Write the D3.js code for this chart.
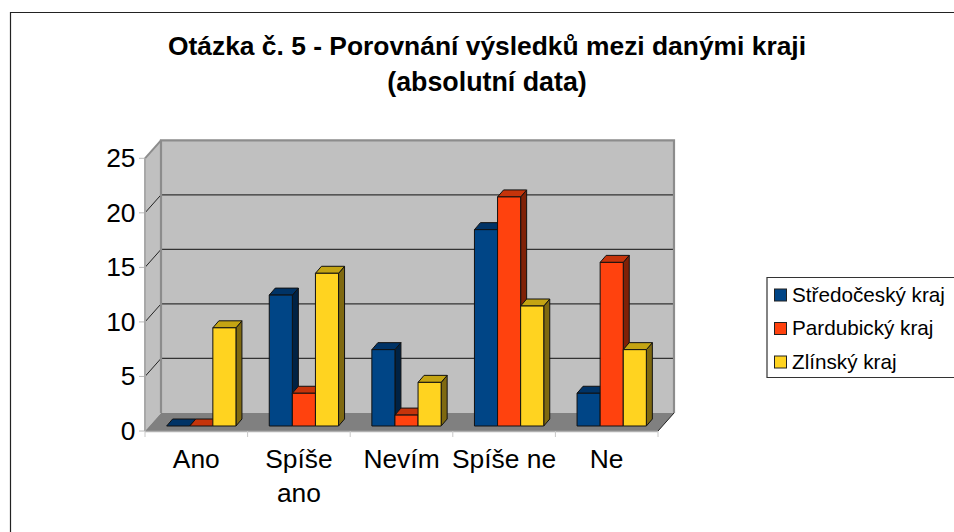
<!DOCTYPE html>
<html><head><meta charset="utf-8">
<script src="https://cdn.jsdelivr.net/npm/d3@7"></script>
<style>html,body{margin:0;padding:0;background:#fff}svg{display:block}text{font-family:"Liberation Sans",Arial,sans-serif;fill:#000}</style>
</head><body><svg id="c" width="954" height="532"></svg>
<script>
const titleLines=["Otázka č. 5 - Porovnání výsledků mezi danými kraji","(absolutní data)"];
const categories=[["Ano"],["Spíše","ano"],["Nevím"],["Spíše ne"],["Ne"]];
const seriesNames=["Středočeský kraj","Pardubický kraj","Zlínský kraj"];
const stredocesky=[0,12,7,18,3];
const pardubicky=[0,3,1,21,15];
const zlinsky=[9,14,4,11,7];
const yTicks=[0,5,10,15,20,25];
const colors=["#004586","#ff420e","#ffd320"];
const topColors=["#003366","#c5340b","#c4a413"];
const sideColors=["#002244","#7f2107","#7f6910"];

const svg=d3.select("#c");
const series=[stredocesky,pardubicky,zlinsky];
const idx=d3.range(categories.length);
const x=d3.scaleBand().domain(idx).range([145,658]);
const y=d3.scaleLinear().domain([0,25]).range([431,158.3]);
const wallDx=16,wallDy=-18, barOx=5,barOy=-5, depthX=6,depthY=-7;
const barW=23.1;

// frame
svg.append("path").attr("d","M10.5,532V12.5H954").attr("fill","none").attr("stroke","#222").attr("stroke-width",1.2);

// title
titleLines.forEach((t,i)=>svg.append("text").attr("x",487).attr("y",55+i*36).attr("text-anchor","middle")
  .attr("font-size",i==0?26.4:26.8).attr("font-weight","bold").text(t));

const L=x.range()[0],R=x.range()[1];
const y0=y(0),yT=y(25);
// walls
svg.append("polygon").attr("points",[[L,y0],[L,yT],[L+wallDx,yT+wallDy],[L+wallDx,y0+wallDy]].join(" ")).attr("fill","#c0c0c0");
svg.append("rect").attr("x",L+wallDx).attr("y",yT+wallDy).attr("width",R-L).attr("height",y0-yT).attr("fill","#c0c0c0");
svg.append("polygon").attr("points",[[L,y0],[L+wallDx,y0+wallDy],[R+wallDx,y0+wallDy],[R,y0]].join(" ")).attr("fill","#808080");
// gridlines
yTicks.forEach(v=>{
  if(v>0&&v<25){
    svg.append("line").attr("x1",L+wallDx).attr("x2",R+wallDx).attr("y1",y(v)+wallDy).attr("y2",y(v)+wallDy).attr("stroke","#333").attr("stroke-width",1.2);
    svg.append("line").attr("x1",L).attr("x2",L+wallDx).attr("y1",y(v)).attr("y2",y(v)+wallDy).attr("stroke","#222").attr("stroke-width",1);
  }
  svg.append("line").attr("x1",L-6).attr("x2",L).attr("y1",y(v)).attr("y2",y(v)).attr("stroke","#b8b8b8");
  svg.append("text").attr("x",135.5).attr("y",y(v)+9).attr("text-anchor","end").attr("font-size",26.4).text(v);
});
// wall borders
svg.append("path").attr("d",`M${L+wallDx},${y0+wallDy}V${yT+wallDy}H${R+wallDx}V${y0+wallDy}`).attr("fill","none").attr("stroke","#8c8c8c").attr("stroke-width",2.2);
svg.append("line").attr("x1",L).attr("x2",L+wallDx).attr("y1",yT).attr("y2",yT+wallDy).attr("stroke","#8c8c8c").attr("stroke-width",2);
svg.append("line").attr("x1",L).attr("x2",L).attr("y1",yT).attr("y2",y0).attr("stroke","#a8a8a8").attr("stroke-width",2);
svg.append("line").attr("x1",L).attr("x2",R).attr("y1",y0+.5).attr("y2",y0+.5).attr("stroke","#b0b0b0").attr("stroke-width",1.4);
svg.append("line").attr("x1",R).attr("x2",R+wallDx).attr("y1",y0).attr("y2",y0+wallDy).attr("stroke","#222").attr("stroke-width",1);
idx.concat([5]).forEach(i=>{
  const px=i<5?x(i):R;
  svg.append("line").attr("x1",px).attr("x2",px).attr("y1",y0).attr("y2",y0+6).attr("stroke","#c8c8c8");
});
// bars
idx.forEach(i=>{
  const cx=x(i)+x.bandwidth()/2+barOx;
  series.forEach((vals,s)=>{
    const v=vals[i];
    const bx=cx-1.5*barW+s*barW, by=y(v)+barOy, b0=y(0)+barOy;
    const g=svg.append("g").attr("stroke","#111").attr("stroke-width",1).attr("stroke-linejoin","round");
    g.append("polygon").attr("points",[[bx+barW,by],[bx+barW+depthX,by+depthY],[bx+barW+depthX,b0+depthY],[bx+barW,b0]].join(" ")).attr("fill",sideColors[s]);
    g.append("polygon").attr("points",[[bx,by],[bx+depthX,by+depthY],[bx+barW+depthX,by+depthY],[bx+barW,by]].join(" ")).attr("fill",topColors[s]);
    if(v>0)g.append("rect").attr("x",bx).attr("y",by).attr("width",barW).attr("height",b0-by).attr("fill",colors[s]);
  });
});
// category labels
categories.forEach((lines,i)=>{
  lines.forEach((t,j)=>svg.append("text").attr("x",x(i)+x.bandwidth()/2).attr("y",468+j*34).attr("text-anchor","middle").attr("font-size",26.4).text(t));
});
// legend
svg.append("path").attr("d","M954,277.5H767V377.5H954").attr("fill","none").attr("stroke","#333").attr("stroke-width",1.2);
seriesNames.forEach((n,i)=>{
  const cy=295+i*33.5;
  svg.append("rect").attr("x",774.5).attr("y",cy-6).attr("width",12).attr("height",12).attr("fill",colors[i]).attr("stroke","#222");
  svg.append("text").attr("x",792).attr("y",cy+6.5).attr("font-size",20.7).text(n);
});
</script></body></html>
